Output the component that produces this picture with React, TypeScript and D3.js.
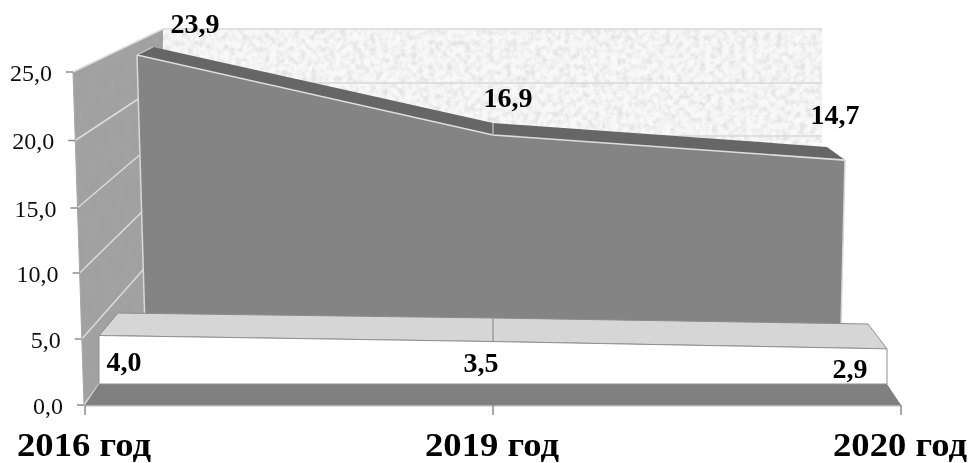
import React from "react";
import * as d3 from "d3";

const categories = ["2016 год", "2019 год", "2020 год"];
const upperValues = [23.9, 16.9, 14.7];
const lowerValues = [4.0, 3.5, 2.9];
const upperLabels = ["23,9", "16,9", "14,7"];
const lowerLabels = ["4,0", "3,5", "2,9"];
const axisTicks = [0, 5, 10, 15, 20, 25];
const backGrid = [25, 20, 15];

const idx = [0, 1, 2];
const fmt = (v: number) => v.toFixed(1).replace(".", ",");
const poly = (pts: [number, number][]) => pts.map((p) => p.join(",")).join(" ");

// Planes of the pseudo-3D chart
const axisX = d3.scalePoint<number>().domain(idx).range([85, 901]);
const axisY = d3.scaleLinear().domain(axisTicks).range([405, 339, 273, 208, 140.5, 72]);
const axisLeftX = d3.scaleLinear().domain([0, 25]).range([84, 73]);
const wallX = d3.scaleLinear().domain([0, 25]).range([160, 163]);
const wallY = d3.scaleLinear().domain(axisTicks).range([300, 250, 193, 136, 83, 29]);

const upFrontX = d3.scaleLinear().domain([0, 1, 2]).range([137, 493, 845]);
const upFrontBottomX = d3.scaleLinear().domain([0, 1, 2]).range([145, 493, 841]);
const upFrontY = d3.scaleLinear().domain([0, 23.9]).range([328, 55]);
const upBackX = d3.scaleLinear().domain([0, 1, 2]).range([153, 493, 827]);
const upBackY = d3.scaleLinear().domain([0, 23.9]).range([306.5, 47]);

const lowFrontX = d3.scaleLinear().domain([0, 1, 2]).range([99, 493, 887]);
const lowFrontY = d3.scaleLinear().domain([0, 4]).range([384, 335.5]);
const lowBackX = d3.scaleLinear().domain([0, 1, 2]).range([118, 493, 868]);
const lowBackY = d3.scaleLinear().domain([0, 4]).range([353, 313]);

export default function App() {
  const upFront = idx.map((i) => [upFrontX(i), upFrontY(upperValues[i])] as [number, number]);
  const upBack = idx.map((i) => [upBackX(i), upBackY(upperValues[i])] as [number, number]);
  const lowFront = idx.map((i) => [lowFrontX(i), lowFrontY(lowerValues[i])] as [number, number]);
  const lowBack = idx.map((i) => [lowBackX(i), lowBackY(lowerValues[i])] as [number, number]);
  const line = d3.line();
  const floorY = axisY(0);
  return (
    <svg
      width={971}
      height={463}
      style={{ position: "absolute", left: 0, top: 0, background: "#fff", fontFamily: "'Liberation Serif', serif" }}
    >
      <defs>
        <filter id="stone" x="0" y="0" width="100%" height="100%">
          <feTurbulence type="fractalNoise" baseFrequency="0.17" numOctaves={3} seed={4} />
          <feColorMatrix
            type="matrix"
            values="0 0 0 0 0.55  0 0 0 0 0.55  0 0 0 0 0.55  1.1 0 0 0 -0.44"
          />
          <feComposite in2="SourceGraphic" operator="in" result="n" />
          <feMerge>
            <feMergeNode in="SourceGraphic" />
            <feMergeNode in="n" />
          </feMerge>
        </filter>
        <filter id="grain" x="0" y="0" width="100%" height="100%">
          <feTurbulence type="fractalNoise" baseFrequency="0.2 0.05" numOctaves={3} seed={9} />
          <feColorMatrix
            type="matrix"
            values="0 0 0 0 0.35  0 0 0 0 0.35  0 0 0 0 0.35  1.3 0 0 0 -0.48"
          />
          <feComposite in2="SourceGraphic" operator="in" result="n" />
          <feMerge>
            <feMergeNode in="SourceGraphic" />
            <feMergeNode in="n" />
          </feMerge>
        </filter>
        <filter id="soft" x="0" y="0" width="100%" height="100%" filterUnits="userSpaceOnUse">
          <feGaussianBlur stdDeviation="0.35" />
        </filter>
      </defs>

      <g filter="url(#soft)">
        {/* back wall */}
        <rect x={wallX(25)} y={wallY(25)} width={822 - wallX(25)} height={wallY(0) - wallY(25)} fill="#f8f8f8" filter="url(#stone)" />
        {backGrid.map((t) => (
          <line key={t} x1={wallX(t)} x2={822} y1={wallY(t)} y2={wallY(t)} stroke="#d9d9d9" strokeWidth={1.5} />
        ))}

        {/* left wall */}
        <polygon
          points={poly([
            [axisLeftX(25), axisY(25)],
            [wallX(25), wallY(25)],
            [wallX(0), wallY(0)],
            [axisLeftX(0), axisY(0)],
          ])}
          fill="#a2a2a2"
          filter="url(#grain)"
        />
        {axisTicks.map((t) => (
          <line
            key={t}
            x1={axisLeftX(t)}
            y1={axisY(t)}
            x2={wallX(t)}
            y2={wallY(t)}
            stroke="#dcdcdc"
            strokeWidth={1.5}
          />
        ))}

        {/* upper series */}
        <polygon points={poly([...upBack, ...[...upFront].reverse()])} fill="#666666" />
        <polygon
          points={poly([
            ...upFront,
            [upFrontBottomX(2), upFrontY(0)],
            [upFrontBottomX(0), upFrontY(0)],
          ])}
          fill="#848484"
        />
        <path d={line(upFront) ?? ""} fill="none" stroke="#dedede" strokeWidth={1.6} />
        <line x1={upFront[0][0]} y1={upFront[0][1]} x2={upFrontBottomX(0)} y2={upFrontY(0)} stroke="#d8d8d8" strokeWidth={1.5} />
        <line x1={upFront[2][0]} y1={upFront[2][1]} x2={upFrontBottomX(2)} y2={upFrontY(0)} stroke="#d8d8d8" strokeWidth={1.5} />
        <line x1={upFront[0][0]} y1={upFront[0][1]} x2={upBack[0][0]} y2={upBack[0][1]} stroke="#d8d8d8" strokeWidth={1} />
        <line x1={upFront[1][0]} y1={upFront[1][1]} x2={upBack[1][0]} y2={upBack[1][1]} stroke="#c8c8c8" strokeWidth={1.2} />

        {/* floor */}
        <polygon
          points={poly([
            [axisX(0)!, floorY],
            [lowFrontX(0), lowFrontY(0)],
            [lowFrontX(2), lowFrontY(0)],
            [axisX(2)!, floorY],
          ])}
          fill="#808080"
        />

        {/* lower series */}
        <polygon points={poly([...lowBack, ...[...lowFront].reverse()])} fill="#d6d6d6" stroke="#8c8c8c" strokeWidth={1} strokeLinejoin="round" />
        <line x1={lowFront[1][0]} y1={lowFront[1][1]} x2={lowBack[1][0]} y2={lowBack[1][1]} stroke="#8f8f8f" strokeWidth={1.2} />
        <polygon
          points={poly([...lowFront, [lowFrontX(2), lowFrontY(0)], [lowFrontX(0), lowFrontY(0)]])}
          fill="#ffffff"
          stroke="#909090"
          strokeWidth={1}
        />

        {/* axes */}
        <line x1={axisX(0)!} x2={axisX(2)!} y1={floorY + 0.8} y2={floorY + 0.8} stroke="#b5b5b5" strokeWidth={1.6} />
        <line x1={axisLeftX(25)} x2={axisLeftX(0)} y1={axisY(25)} y2={axisY(0)} stroke="#a8a8a8" strokeWidth={1} />
        {axisTicks.map((t) => (
          <g key={t}>
            <line x1={axisLeftX(t) - 7} x2={axisLeftX(t)} y1={axisY(t)} y2={axisY(t)} stroke="#8c8c8c" strokeWidth={1.5} />
            <text x={axisLeftX(t) - 21} y={axisY(t) + 8.5} textAnchor="end" fontSize={24} fill="#111">
              {fmt(t)}
            </text>
          </g>
        ))}
        {idx.map((i) => (
          <line key={i} x1={axisX(i)!} x2={axisX(i)!} y1={floorY} y2={floorY + 10} stroke="#8c8c8c" strokeWidth={1.5} />
        ))}
        {categories.map((c, i) => (
          <text
            key={c}
            x={axisX(i)! - 1}
            y={455.5}
            textAnchor="middle"
            fontSize={34}
            fontWeight="bold"
            fill="#000"
            textLength={134}
            lengthAdjust="spacingAndGlyphs"
          >
            {c}
          </text>
        ))}

        {/* data labels */}
        {upperLabels.map((l, i) => (
          <text key={l} x={[195, 508, 835][i]} y={[33, 107, 124][i]} textAnchor="middle" fontSize={28} fontWeight="bold" fill="#000">
            {l}
          </text>
        ))}
        {lowerLabels.map((l, i) => (
          <text key={l} x={[124, 481, 850][i]} y={[371, 372, 378][i]} textAnchor="middle" fontSize={28} fontWeight="bold" fill="#000">
            {l}
          </text>
        ))}
      </g>
    </svg>
  );
}
